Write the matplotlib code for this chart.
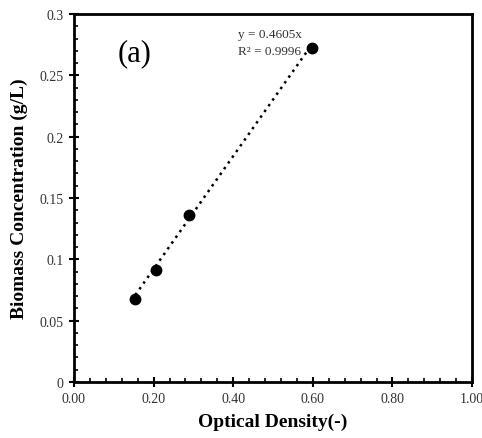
import numpy as np
import matplotlib.pyplot as plt
from matplotlib.ticker import MultipleLocator, FormatStrFormatter

# optical density vs biomass concentration
od = [0.154, 0.206, 0.288, 0.597]
biomass = [0.068, 0.091, 0.136, 0.272]
slope = 0.4605
r2 = 0.9996
yticks = [0, 0.05, 0.1, 0.15, 0.2, 0.25, 0.3]
ytick_labels = ['0', '0.05', '0.1', '0.15', '0.2', '0.25', '0.3']

plt.rcParams['font.family'] = ['Liberation Serif', 'DejaVu Serif']

fig = plt.figure(figsize=(4.82, 4.39), dpi=100)
ax = fig.add_axes([0.1535, 0.1276, 0.826, 0.8382])

# trendline through origin, drawn over the data range
xfit = np.array([min(od), max(od)])
ax.plot(xfit, slope * xfit, linestyle=(0, (1, 1.8)), color='black', linewidth=1.8)
ax.plot(od, biomass, 'o', color='black', markersize=7.5)

ax.text(0.413, 0.2815, f'y = {slope}x', fontsize=9.5, color='#333333')
ax.text(0.413, 0.2675, f'R² = {r2}', fontsize=9.5, color='#333333')
ax.text(0.11, 0.262, '(a)', fontsize=22, color='black')

ax.set_xlim(0, 1.0)
ax.set_ylim(0, 0.3)
ax.xaxis.set_major_locator(MultipleLocator(0.2))
ax.xaxis.set_minor_locator(MultipleLocator(0.04))
ax.yaxis.set_minor_locator(MultipleLocator(0.01))
ax.xaxis.set_major_formatter(FormatStrFormatter('%.2f'))
ax.set_yticks(yticks)
ax.set_yticklabels(ytick_labels)

ax.tick_params(which='major', direction='inout', length=7, width=1.5,
               labelsize=10, labelcolor='#333333', pad=4)
ax.tick_params(which='minor', direction='in', length=3, width=1.2)
for s in ax.spines.values():
    s.set_linewidth(2)

ax.set_xlabel('Optical Density(-)', fontsize=14, fontweight='bold', labelpad=5)
ax.set_ylabel('Biomass Concentration (g/L)', fontsize=14, fontweight='bold', labelpad=8)

fig.savefig('out.png', dpi=100)
